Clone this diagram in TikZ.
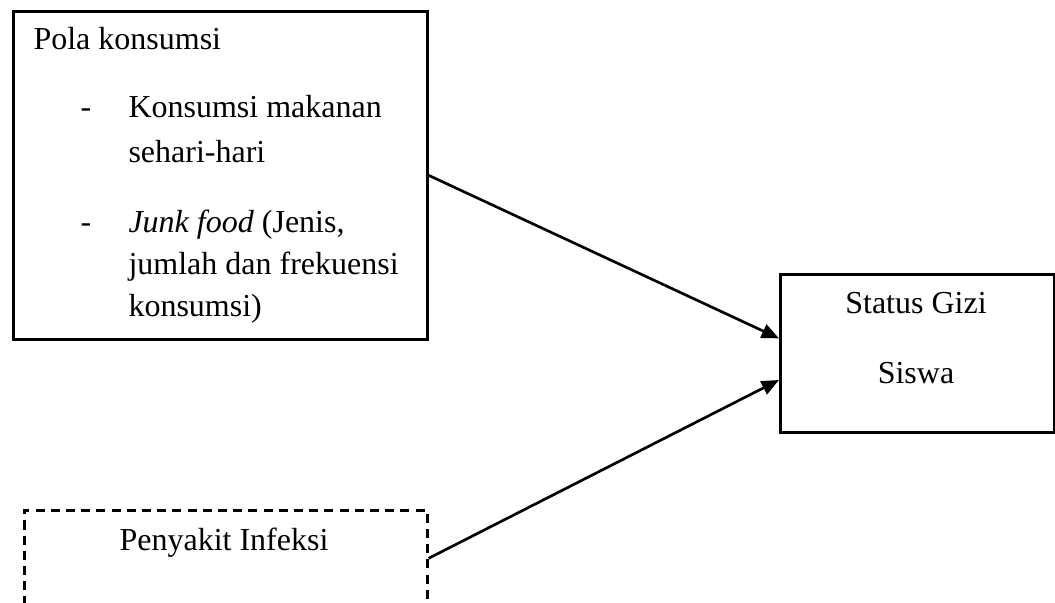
\documentclass[tikz,border=0pt]{standalone}
\usepackage{fontspec}
\setmainfont{Liberation Serif}
\usetikzlibrary{arrows.meta}

\begin{document}
\begin{tikzpicture}[x=0.375pt,y=-0.375pt,
	kotak/.style={draw,line width=1pt,inner sep=0pt,anchor=north west},
	teks/.style={font=\fontsize{12}{16}\selectfont,inner sep=0pt,anchor=base west},
	tengah/.style={font=\fontsize{12}{16}\selectfont,inner sep=0pt,anchor=base},
	panah/.style={line width=1pt,-{Triangle[length=6.5pt,width=5.4pt]}}]
	\useasboundingbox (0,0) rectangle (1055,603);
	% kotak
	\node[kotak,minimum width=155.25pt,minimum height=123pt] (pola) at (12,10) {};
	\node[kotak,minimum width=102.75pt,minimum height=59.25pt] (status) at (779,273) {};
	\node[kotak,dash pattern=on 3.4pt off 2.3pt,minimum width=151.1pt,minimum height=36pt] (infeksi) at (23,509) {};
	% teks
	\node[teks] (judul) at (33,50) {Pola konsumsi};
	\node[teks] (strip1) at (80,118) {-};
	\node[teks] (item1a) at (128,118) {Konsumsi makanan};
	\node[teks] (item1b) at (128,163) {sehari-hari};
	\node[teks] (strip2) at (80,232) {-};
	\node[teks] (item2a) at (128,232) {\textit{Junk food} (Jenis,};
	\node[teks] (item2b) at (128,274) {jumlah dan frekuensi};
	\node[teks] (item2c) at (128,316) {konsumsi)};
	\node[tengah] (status1) at (916,313) {Status Gizi};
	\node[tengah] (status2) at (916,383) {Siswa};
	\node[tengah] (infeksi1) at (224,550) {Penyakit Infeksi};
	% panah
	\draw[panah] (pola.east) -- ([yshift=5.6pt]status.west);
	\draw[panah] (infeksi.east) -- ([yshift=-10pt]status.west);
\end{tikzpicture}
\end{document}
